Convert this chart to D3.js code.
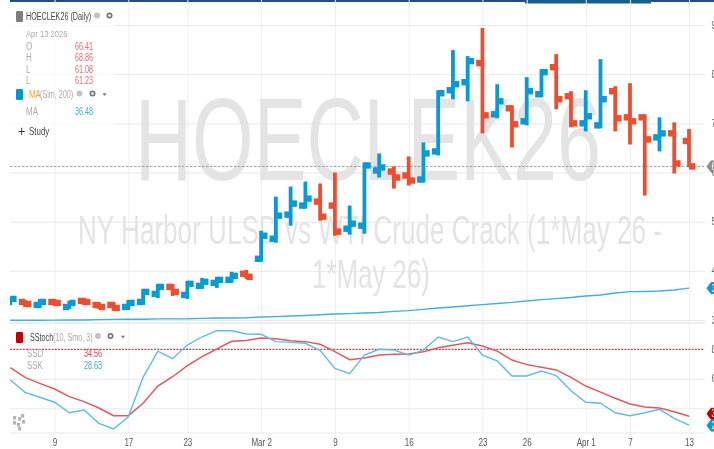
<!DOCTYPE html>
<html><head><meta charset="utf-8">
<style>html,body{margin:0;padding:0;background:#fff;overflow:hidden}svg{display:block;filter:blur(.5px)}text{font-family:"Liberation Sans",Arial,sans-serif}</style>
<script src="https://cdn.jsdelivr.net/npm/d3@7"></script></head><body>
<script>
const dates=["Feb 4","Feb 5","Feb 6","Feb 9","Feb 10","Feb 11","Feb 12","Feb 13","Feb 17","Feb 18","Feb 19","Feb 20","Feb 23","Feb 24","Feb 25","Feb 26","Feb 27","Mar 2","Mar 3","Mar 4","Mar 5","Mar 6","Mar 9","Mar 10","Mar 11","Mar 12","Mar 13","Mar 16","Mar 17","Mar 18","Mar 19","Mar 20","Mar 23","Mar 24","Mar 25","Mar 26","Mar 27","Mar 30","Mar 31","Apr 1","Apr 2","Apr 6","Apr 7","Apr 8","Apr 9","Apr 10","Apr 13"];
const opens=[33.47,33.67,33.06,33.67,32.65,33.88,33.06,33.06,32.65,33.67,35.31,36.73,35.10,36.94,37.55,38.16,39.39,42.45,46.53,51.43,53.27,54.08,53.27,48.57,49.18,60.41,60.20,59.39,58.57,64.29,76.73,78.37,82.24,71.84,73.06,70.41,75.92,81.43,75.51,70.00,69.59,76.53,71.22,71.22,67.14,67.96,66.41];
const highs=[34.69,34.08,34.29,34.29,33.88,34.49,33.67,33.67,34.08,36.33,37.35,37.35,37.96,38.57,38.78,39.80,40.20,48.16,55.10,57.14,58.16,57.76,60.00,53.27,62.04,63.88,61.22,63.27,66.12,76.73,84.90,83.67,89.39,77.96,73.67,79.39,81.02,84.08,76.53,76.73,83.06,77.55,78.16,71.84,71.22,70.20,68.86];
const lows=[33.06,32.65,32.45,32.86,32.24,33.06,32.24,31.84,32.04,33.06,34.49,34.90,34.29,36.33,36.53,37.55,38.37,41.84,45.71,49.18,52.65,50.20,47.14,47.35,47.55,58.98,56.73,57.35,57.96,63.47,74.90,74.49,67.96,71.02,65.10,69.59,75.31,72.86,69.18,68.37,68.98,68.37,65.71,55.31,64.29,59.80,61.08];
const closes=[34.29,33.27,33.67,33.47,33.47,33.67,32.65,32.45,33.47,35.71,36.73,35.71,37.35,37.76,38.16,38.98,38.78,47.14,51.22,53.67,54.69,51.02,47.96,49.59,61.43,61.02,58.98,58.37,63.88,76.12,77.96,82.65,71.63,74.49,69.80,76.53,80.41,74.90,70.00,71.43,74.90,71.02,70.41,66.73,67.96,61.84,61.23];
const ma=[29.96,29.96,29.96,29.98,30.0,30.0,30.08,30.12,30.14,30.16,30.22,30.22,30.24,30.33,30.41,30.41,30.45,30.61,30.69,30.81,30.91,31.06,31.22,31.30,31.42,31.54,31.75,31.91,32.16,32.44,32.64,32.89,33.13,33.37,33.58,33.86,34.15,34.35,34.59,34.88,35.08,35.49,35.77,35.81,35.89,36.10,36.48];
const ssk=[59.2,50.85,47.5,44.1,37,38.8,29.8,26,34.3,61,78.8,73.6,82.9,88.5,92.6,92.6,90.4,90.2,85.2,84.7,84.1,79.1,67.1,63.5,76.1,80,79.5,76.1,79.5,88.3,85.2,88.3,76.1,72.1,61.9,61.9,65.3,62.1,51.9,44.1,43.4,37,35,37,39.3,33.2,28.63];
const ssd=[67.5,61,56.9,53.1,47.9,44.5,40.2,35,35,43.4,55.1,61.4,68.9,75,80.2,85.4,86,87.7,87.2,85.8,85.2,83.4,78.4,72.9,74.1,76.1,76.6,76.8,78.4,81.1,82.7,84.5,82.2,78.8,72.7,69.6,67.8,66,61,55.1,51,46.8,42.9,40.9,40.2,37.7,34.56];
const priceTicks=[90,80,70,60,50,40,30];
const stochGrid=[60,40];
const stochLevel=80;
const xTickDates=["Feb 9","Feb 17","Feb 23","Mar 2","Mar 9","Mar 16","Mar 23","Mar 26","Apr 1","Apr 7","Apr 13"];
const xTickLabels=["9","17","23","Mar 2","9","16","23","26","Apr 1","7","13"];
const symbol="HOECLEK26",subtitle=["NY Harbor ULSD vs WTI Crude Crack (1*May 26 -","1*May 26)"];
const legendOHLC=[["O","66.41"],["H","68.86"],["L","61.08"],["L","61.23"]];

const W=714,H=449,BLUE="#069ad8",RED="#f04c2e",GRID="#e9e9e9";
const svg=d3.select("body").append("svg").attr("width",W).attr("height",H);
const x=d3.scalePoint().domain(dates).range([10.3,689]);
const yP=d3.scaleLinear().domain([30,90]).range([320,25]);
const yS=d3.scaleLinear().domain([40,80]).range([408.3,349.3]);
const PL=10,PR=705;
function squeeze(sel,k){sel.each(function(){const n=this.getComputedTextLength();this.setAttribute("textLength",n*k);this.setAttribute("lengthAdjust","spacingAndGlyphs");});return sel;}
function T(g,s,px,py,size,fill,k=.78,anchor="start"){const t=g.append("text").attr("x",px).attr("y",py).attr("font-size",size).attr("fill",fill).attr("text-anchor",anchor).text(s);squeeze(t,k);return t;}

svg.append("rect").attr("x",PL).attr("y",0).attr("width",W-PL).attr("height",2).attr("fill","#1f4e80");
svg.append("rect").attr("x",525).attr("y",0).attr("width",126).attr("height",3.5).attr("fill","#17608f");

const gridX=svg.append("g").attr("transform","translate(0,433)").call(d3.axisBottom(x).tickValues(xTickDates).tickSize(-433).tickFormat(""));
gridX.select(".domain").remove();gridX.selectAll("line").attr("stroke","#efefef");
const gridP=svg.append("g").attr("transform",`translate(${PR},0)`).call(d3.axisLeft(yP).tickValues(priceTicks).tickSize(PR-PL).tickFormat(""));
gridP.select(".domain").remove();gridP.selectAll("line").attr("stroke",GRID).attr("stroke-width",1);
const gridS=svg.append("g").attr("transform",`translate(${PR},0)`).call(d3.axisLeft(yS).tickValues(stochGrid).tickSize(PR-PL).tickFormat(""));
gridS.select(".domain").remove();gridS.selectAll("line").attr("stroke",GRID);
[323,433].forEach(v=>svg.append("line").attr("x1",PL).attr("x2",PR).attr("y1",v).attr("y2",v).attr("stroke",GRID).attr("stroke-width",v==323?1.5:1));

const wm=svg.append("g").attr("fill","#e4e4e4");
wm.append("text").attr("x",135).attr("y",180).attr("font-size",116).attr("textLength",466).attr("lengthAdjust","spacingAndGlyphs").text(symbol);
wm.append("text").attr("x",78).attr("y",244).attr("font-size",40).attr("textLength",584).attr("lengthAdjust","spacingAndGlyphs").text(subtitle[0]);
wm.append("text").attr("x",312).attr("y",288).attr("font-size",40).attr("textLength",118).attr("lengthAdjust","spacingAndGlyphs").text(subtitle[1]);

svg.append("line").attr("x1",PL).attr("x2",704).attr("y1",yP(61.23)).attr("y2",yP(61.23)).attr("stroke","#8a8a8a").attr("stroke-width",.8).attr("stroke-dasharray","2.5,1.5");

const defs=svg.append("defs");
defs.append("clipPath").attr("id","pc").append("rect").attr("x",PL).attr("y",0).attr("width",PR-PL).attr("height",H);
const bars=svg.append("g").attr("clip-path","url(#pc)").selectAll("g").data(dates).join("g").attr("fill",(d,i)=>closes[i]>=opens[i]?BLUE:RED);
const SW=3.8,TW=4.4,TH=6.4;
bars.append("rect").attr("x",d=>x(d)-SW/2).attr("width",SW).attr("y",(d,i)=>yP(highs[i])).attr("height",(d,i)=>yP(lows[i])-yP(highs[i]));
bars.append("rect").attr("x",d=>x(d)-SW/2-TW).attr("width",TW+SW/2).attr("height",TH).attr("y",(d,i)=>yP(opens[i])-TH/2);
bars.append("rect").attr("x",d=>x(d)).attr("width",TW+SW/2).attr("height",TH).attr("y",(d,i)=>yP(closes[i])-TH/2);

const line=(s,ys)=>d3.line().x((d,i)=>x(dates[i])).y(d=>ys(d))(s);
svg.append("path").attr("d",line(ma,yP)).attr("fill","none").attr("stroke","#3fb0e0").attr("stroke-width",1.4);

svg.append("line").attr("x1",PL).attr("x2",704).attr("y1",yS(stochLevel)).attr("y2",yS(stochLevel)).attr("stroke","#a8141c").attr("stroke-width",1).attr("stroke-dasharray","2,1.2");
svg.append("path").attr("d",line(ssd,yS)).attr("fill","none").attr("stroke","#dd5a62").attr("stroke-width",1.5);
svg.append("path").attr("d",line(ssk,yS)).attr("fill","none").attr("stroke","#62bbe2").attr("stroke-width",1.4);

const ax=svg.append("g").attr("transform","translate(0,433)").call(d3.axisBottom(x).tickValues(xTickDates).tickSize(0).tickPadding(6).tickFormat((d,i)=>xTickLabels[i]));
ax.select(".domain").remove();
ax.selectAll("text").attr("font-size",10).attr("font-family",null).attr("fill","#555");
squeeze(ax.selectAll("text"),.8);

const labs=svg.append("g");
priceTicks.forEach(v=>T(labs,String(v),711.5,yP(v)+3.5,10,"#666",.8));
[80,60].forEach(v=>T(labs,String(v),711.5,yS(v)+3.5,10,"#666",.8));

const lg=svg.append("g");
lg.append("rect").attr("x",PL).attr("y",5).attr("width",105).attr("height",133).attr("fill","#fff").attr("opacity",.72);
const sw=(px,py,c)=>lg.append("rect").attr("x",px).attr("y",py).attr("width",7).attr("height",11).attr("rx",1.2).attr("fill",c);
const gear=(cx,cy)=>{lg.append("circle").attr("cx",cx).attr("cy",cy).attr("r",2.2).attr("fill","none").attr("stroke","#777").attr("stroke-width",1.7);};
const reg=(cx,cy)=>{lg.append("circle").attr("cx",cx).attr("cy",cy).attr("r",3).attr("fill","#c4c4c4");};
const caret=(cx,cy)=>lg.append("path").attr("d",`M${cx-2},${cy-1.2}L${cx+2},${cy-1.2}L${cx},${cy+1.5}Z`).attr("fill","#777");
sw(16,11,"#7d7d7d");
T(lg,"HOECLEK26 (Daily)",26,20,10,"#444",.72);reg(97,15.5);gear(109.5,15.5);
T(lg,"Apr 13 2026",26,37,9.5,"#aaa",.8);
legendOHLC.forEach((r,i)=>{const py=50+i*11.4;T(lg,r[0],26,py,10,"#aaa",.8);T(lg,r[1],75,py,10,"#f0686a",.72);});
sw(16,89,"#0a94cf");
T(lg,"MA",29,98,10,"#f5a13e",.78);T(lg,"(Sim, 200)",40,98,10,"#aaa",.72);reg(79.5,93.5);gear(92.5,93.5);caret(104.5,94.5);
T(lg,"MA",26,115,10,"#aaa",.8);T(lg,"36.48",75,115,10,"#35ade0",.72);
T(lg,"+",18,136,14,"#333",.9);T(lg,"Study",29,135,11,"#444",.72);
sw(16,332,"#c00000");
T(lg,"SStoch",30,341,10,"#444",.72);T(lg,"(10, Smo, 3)",53,341,10,"#aaa",.72);reg(98,336);gear(110.5,336);caret(123,337);
T(lg,"SSD",27,357,10,"#aaa",.78);T(lg,"34.56",84,357,10,"#e0454c",.72);
T(lg,"SSK",27,369,10,"#aaa",.78);T(lg,"28.63",84,369,10,"#35a6db",.72);

[[13,416],[18,417],[21,414],[13,421],[17,423],[22,420],[18,427]].forEach(p=>lg.append("rect").attr("x",p[0]).attr("y",p[1]).attr("width",3.2).attr("height",3.6).attr("fill","#b5b5b5"));

const pill=(py,c,s,tc)=>{const g=svg.append("g");g.append("path").attr("d",`M707,${py}L711,${py-5.5}L${W+6},${py-5.5}L${W+6},${py+5.5}L711,${py+5.5}Z`).attr("fill",c).attr("stroke",c).attr("stroke-width",1).attr("stroke-linejoin","round");T(g,s,711.5,py+3.5,10,tc,.78);};
pill(yP(61.23),"#8e8e8e","61.23","#fff");
pill(yP(36.48),BLUE,"36.48","#fff");
pill(yS(34.56)-2.5,"#c00000","34.56","#fff");
pill(yS(28.63)+.5,BLUE,"28.63","#fff");
</script></body></html>
